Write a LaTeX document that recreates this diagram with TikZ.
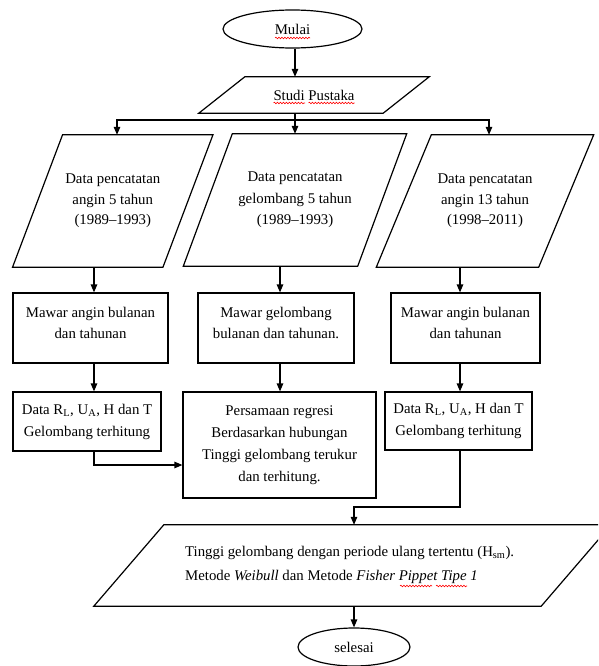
\documentclass[tikz,border=0pt]{standalone}
\usepackage{fontspec}
\setmainfont{Liberation Serif}
\usetikzlibrary{shapes.geometric,arrows.meta,decorations.pathmorphing}
\newcommand\drawpara[2]{\draw[line] ([xshift=#2/2]#1.north west) -- ([xshift=#2/2]#1.north east) -- ([xshift=-#2/2]#1.south east) -- ([xshift=-#2/2]#1.south west) -- cycle;}
\tikzset{
  line/.style={draw=black, line width=1.2pt},
  arr/.style={line, -{Triangle[length=8pt,width=6.5pt]}},
  txt/.style={align=center, font=\fontsize{14.8pt}{21.5pt}\selectfont, inner sep=0pt},
  box/.style={rectangle, line, inner sep=0pt},
  hold/.style={rectangle, inner sep=0pt},
  oval/.style={ellipse, line, inner sep=0pt},
  wavy/.style={draw=red, line width=0.6pt, decorate, decoration={snake, amplitude=0.8pt, segment length=3pt}},
}
\begin{document}
\begin{tikzpicture}[x=1pt,y=1pt]
\useasboundingbox (0,0) rectangle (598,-666);
\clip (0,0) rectangle (598,-666);
% start
\node (mulai) [oval, txt, minimum width=139pt, minimum height=38pt] at (292.5,-29) {Mulai};
% studi pustaka
\node (studi) [hold, txt, minimum width=184pt, minimum height=36pt] at (314,-95) {Studi Pustaka};
\drawpara{studi}{46}
% data parallelograms
\node (p1) [hold, txt, minimum width=150pt, minimum height=132pt, font=\fontsize{14.8pt}{20.5pt}\selectfont] at (112.75,-201) {Data pencatatan\\angin 5 tahun\\(1989–1993)};
\drawpara{p1}{50}
\node (p2) [hold, txt, minimum width=174pt, minimum height=132pt, font=\fontsize{14.8pt}{21.5pt}\selectfont] at (295,-200) {Data pencatatan\\gelombang 5 tahun\\(1989–1993)};
\drawpara{p2}{49}
\node (p3) [hold, txt, minimum width=162pt, minimum height=132pt, font=\fontsize{14.8pt}{20.5pt}\selectfont] at (485,-201) {Data pencatatan\\angin 13 tahun\\(1998–2011)};
\drawpara{p3}{55}
% wind/wave roses
\node (r1) [box, minimum width=155pt, minimum height=70pt] at (90.5,-328) {};
\node (r1t) [txt] at ([yshift=5pt]r1.center) {Mawar angin bulanan\\dan tahunan};
\node (r2) [box, minimum width=156pt, minimum height=70pt] at (276,-328) {};
\node (r2t) [txt] at ([yshift=5pt]r2.center) {Mawar gelombang\\bulanan dan tahunan.};
\node (r3) [box, minimum width=149pt, minimum height=70pt] at (465.5,-328) {};
\node (r3t) [txt] at ([yshift=5pt]r3.center) {Mawar angin bulanan\\dan tahunan};
% row 2
\node (r4) [box, txt, minimum width=148pt, minimum height=59pt, font=\fontsize{14.8pt}{22pt}\selectfont] at (87,-421.5) {Data R\textsubscript{L}, U\textsubscript{A}, H dan T\\Gelombang terhitung};
\node (r5) [box, txt, minimum width=193pt, minimum height=106pt, font=\fontsize{14.8pt}{22pt}\selectfont] at (279.5,-445) {Persamaan regresi\\Berdasarkan hubungan\\Tinggi gelombang terukur\\dan terhitung.};
\node (r6) [box, txt, minimum width=147pt, minimum height=58pt, font=\fontsize{14.8pt}{22pt}\selectfont] at (458.5,-421) {Data R\textsubscript{L}, U\textsubscript{A}, H dan T\\Gelombang terhitung};
% big parallelogram
\node (big) [hold, minimum width=447pt, minimum height=81pt] at (352.5,-565.5) {};
\drawpara{big}{70}
\node (bigt) [txt, align=left, anchor=west, font=\fontsize{14.8pt}{24pt}\selectfont] at (185,-565) {Tinggi gelombang dengan periode ulang tertentu (H\textsubscript{sm}).\\Metode \textit{Weibull} dan Metode \textit{Fisher Pippet Tipe 1}};
% end
\node (selesai) [oval, txt, minimum width=112pt, minimum height=38pt] at (354,-647) {selesai};
% spell-check underlines
\draw[wavy] (275,-38) -- (310,-38);
\draw[wavy] (273.5,-103) -- (305,-103);
\draw[wavy] (308.5,-103) -- (354.5,-103);
\draw[wavy] (400,-586) -- (432,-586);
\draw[wavy] (436,-586) -- (467,-586);
% connector coordinates
\coordinate (c0) at (295,-120);
\coordinate (b1) at (117,-120);
\coordinate (b3) at (489,-120);
\coordinate (k1) at (94,0);
\coordinate (k2) at (280,0);
\coordinate (k3) at (460,0);
\coordinate (j1) at (94,-465);
\coordinate (j2) at (460,-507);
\coordinate (j3) at (354,-507);
% connectors
\draw[arr] (mulai.south -| c0) -- (studi.north -| c0);
\draw[line] (studi.south -| c0) -- (c0);
\draw[arr] (c0) -- (b1) -- (p1.north -| b1);
\draw[arr] (c0) -- (p2.north -| c0);
\draw[arr] (c0) -- (b3) -- (p3.north -| b3);
\draw[arr] (p1.south -| k1) -- (r1.north -| k1);
\draw[arr] (p2.south -| k2) -- (r2.north -| k2);
\draw[arr] (p3.south -| k3) -- (r3.north -| k3);
\draw[arr] (r1.south -| k1) -- (r4.north -| k1);
\draw[arr] (r2.south -| k2) -- (r5.north -| k2);
\draw[arr] (r3.south -| k3) -- (r6.north -| k3);
\draw[arr] (r4.south -| j1) -- (j1) -- (j1 -| r5.west);
\draw[arr] (r6.south -| j2) -- (j2) -- (j3) -- (big.north -| j3);
\draw[arr] (big.south -| selesai.north) -- (selesai.north);
\end{tikzpicture}
\end{document}
